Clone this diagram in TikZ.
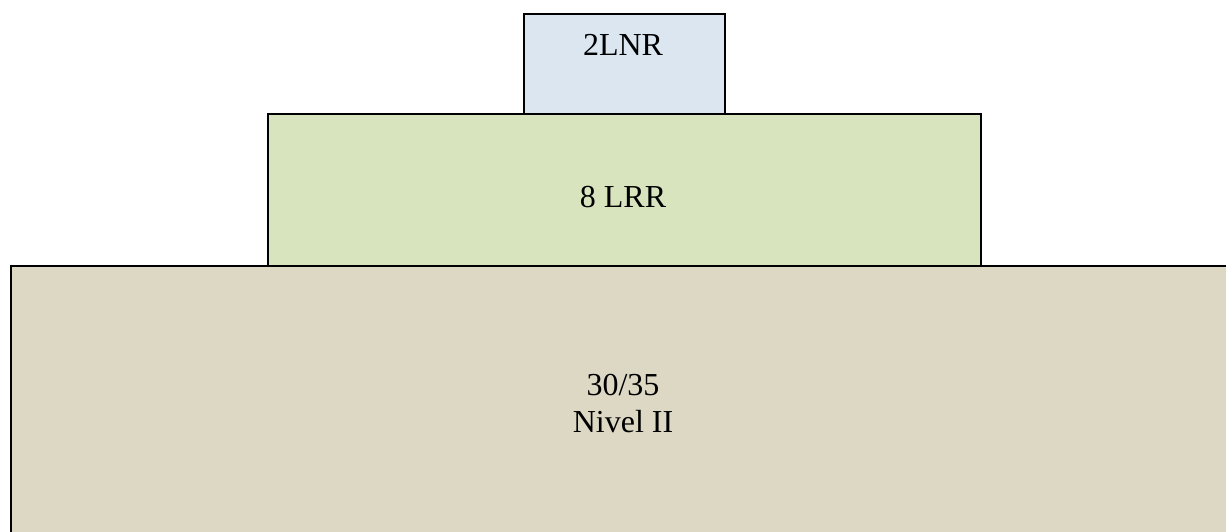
\documentclass[tikz,border=0pt]{standalone}
\usepackage{fontspec}
\setmainfont{Liberation Serif}
\definecolor{topfill}{HTML}{DCE6F1}
\definecolor{midfill}{HTML}{D7E4BD}
\definecolor{botfill}{HTML}{DDD8C4}
\begin{document}
\begin{tikzpicture}[x=1pt,y=-1pt,
  box/.style={draw=black,line width=2pt},
  lbl/.style={anchor=base,inner sep=0pt,font=\fontsize{32}{37}\selectfont}]
\useasboundingbox (0,0) rectangle (1226,532);
\clip (0,0) rectangle (1226,532);
\fill[white] (0,0) rectangle (1226,532);
\node[box,fill=botfill,anchor=north west,minimum width=1236pt,minimum height=290pt,inner sep=0pt] (bot) at (10,265) {};
\node[box,fill=midfill,anchor=north west,minimum width=713pt,minimum height=152pt,inner sep=0pt] (mid) at (267,113) {};
\node[box,fill=topfill,anchor=north west,minimum width=201pt,minimum height=100pt,inner sep=0pt] (top) at (523,13) {};
\node[lbl] (t1) at (623,56) {2LNR};
\node[lbl] (t2) at (623,207) {8 LRR};
\node[lbl] (t3) at (623,395) {30/35};
\node[lbl] (t4) at (623,432) {Nivel II};
\end{tikzpicture}
\end{document}
